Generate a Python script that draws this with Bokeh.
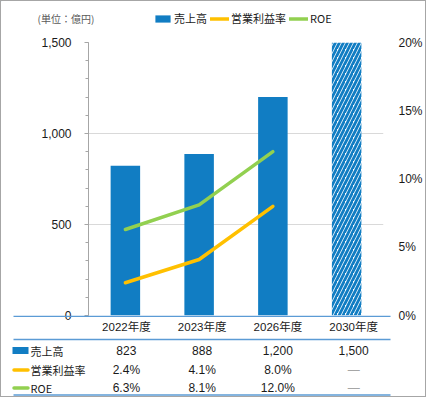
import numpy as np
from bokeh.plotting import figure
from bokeh.models import (Range1d, FactorRange, LinearAxis, FixedTicker, NumeralTickFormatter,
                          PrintfTickFormatter, Legend, LegendItem, ColumnDataSource)
from bokeh.layouts import column
from bokeh.core.properties import value
from bokeh.embed import file_html
from bokeh.resources import INLINE

# ---------------- data ----------------
categories = ["2022年度", "2023年度", "2026年度", "2030年度"]
sales = [823, 888, 1200, 1500]            # 売上高 (億円)
op_margin = [2.4, 4.1, 8.0, None]         # 営業利益率 (%)
roe = [6.3, 8.1, 12.0, None]              # ROE (%)
sales_ticks = [0, 500, 1000, 1500]
pct_ticks = [0, 5, 10, 15, 20]
series_names = ["売上高", "営業利益率", "ROE"]
unit_label = "(単位：億円)"
missing_mark = "―"

# ---------------- style ----------------
BLUE = "#117DC3"
ORANGE = "#FFC000"
GREEN = "#92D050"
TABLE_LINE = "#5B9BD5"
AXIS_GRAY = "#A6A6A6"
GRID = "#D9D9D9"
TXT = "#1A1A1A"
JP = "Noto Sans CJK JP"
LAT = "Liberation Sans"
MIX = "Liberation Sans, Noto Sans CJK JP"

W = 424
FL, FR, FT, FH, FB = 87, 34, 41, 273, 8
HH = 30          # header strip height
TH = 81          # table strip height
n = len(categories)
colw = (W - FL - FR) / n

actual = [i for i in range(n) if op_margin[i] is not None]
target = [i for i in range(n) if op_margin[i] is None]

def strip(height, **kw):
    f = figure(width=W, height=height, output_backend="svg", toolbar_location=None,
               title=None, x_axis_location=None, y_axis_location=None,
               min_border=0, frame_align=False, **kw)
    f.outline_line_color = None
    f.background_fill_color = None
    f.border_fill_color = None
    for g in f.grid:
        g.visible = False
    return f

# ---------------- header: unit + legend ----------------
h = strip(HH, x_range=Range1d(0, W), y_range=Range1d(HH, 0))
h.text(x=[36], y=[17], text=[unit_label], text_font=value(JP), text_font_size="10px",
       text_color="#595959", text_baseline="middle", text_align="left")
# legend swatches: renderers styled like the chart series, kept outside the strip's view
off = [-100, -99]
d_bar = h.vbar(x=off[:1], top=off[:1], bottom=off[1:], width=1,
               fill_color=BLUE, line_color=None)
d_om = h.line(x=off, y=off, line_color=ORANGE, line_width=3.5, line_cap="round")
d_roe = h.line(x=off, y=off, line_color=GREEN, line_width=3.5, line_cap="round")
legend = Legend(items=[LegendItem(label=series_names[0], renderers=[d_bar]),
                       LegendItem(label=series_names[1], renderers=[d_om]),
                       LegendItem(label=series_names[2], renderers=[d_roe])],
                orientation="horizontal", location=(152, 5),
                glyph_width=19, glyph_height=9, label_height=10, label_width=10,
                label_standoff=2, spacing=3, padding=0, margin=0,
                border_line_color=None, background_fill_alpha=0,
                label_text_font=JP, label_text_font_size="11px",
                label_text_color=TXT)
h.add_layout(legend, "center")

# ---------------- main chart ----------------
p = figure(width=W, height=FT + FH + FB, x_range=FactorRange(*categories),
           y_range=Range1d(0, sales_ticks[-1]), output_backend="svg",
           toolbar_location=None, title=None, x_axis_location=None,
           min_border_left=FL, min_border_right=FR, min_border_top=FT,
           min_border_bottom=FB, frame_align=False, margin=(-HH, 0, 0, 0))
p.outline_line_color = None
p.background_fill_color = "white"
p.border_fill_color = None
for g in p.xgrid:
    g.visible = False
p.ygrid.ticker = FixedTicker(ticks=sales_ticks[1:])
p.ygrid.grid_line_color = GRID
p.ygrid.grid_line_width = 1

yax = p.yaxis[0]
yax.ticker = FixedTicker(ticks=sales_ticks,
                         minor_ticks=list(range(sales_ticks[0], sales_ticks[-1] + 1, 100)))
yax.formatter = NumeralTickFormatter(format="0,0")
yax.axis_line_color = AXIS_GRAY
yax.major_tick_line_color = AXIS_GRAY
yax.minor_tick_line_color = AXIS_GRAY
yax.major_tick_out = 4
yax.major_tick_in = 0
yax.minor_tick_out = 3
yax.minor_tick_in = 0
yax.major_label_standoff = 13
yax.major_label_text_font = LAT
yax.major_label_text_font_size = "12px"
yax.major_label_text_color = TXT

p.extra_y_ranges = {"pct": Range1d(pct_ticks[0], pct_ticks[-1])}
rax = LinearAxis(y_range_name="pct", ticker=FixedTicker(ticks=pct_ticks),
                 formatter=PrintfTickFormatter(format="%d%%"))
rax.axis_line_color = None
rax.major_tick_line_color = None
rax.minor_tick_line_color = None
rax.major_label_standoff = 9
rax.major_label_text_font = LAT
rax.major_label_text_font_size = "12px"
rax.major_label_text_color = TXT
p.add_layout(rax, "right")

bar_src = ColumnDataSource(dict(cat=[categories[i] for i in actual],
                                val=[sales[i] for i in actual]))
p.vbar(x="cat", top="val", width=0.4, source=bar_src, fill_color=BLUE, line_color=None)
tgt_src = ColumnDataSource(dict(cat=[categories[i] for i in target],
                                val=[sales[i] for i in target]))
p.vbar(x="cat", top="val", width=0.4, source=tgt_src, fill_color="white",
       line_color=None, hatch_pattern="/", hatch_color=BLUE,
       hatch_scale=8, hatch_weight=2.8)

line_src = ColumnDataSource(dict(cat=[categories[i] for i in actual],
                                 om=[op_margin[i] for i in actual],
                                 roe=[roe[i] for i in actual]))
p.line(x="cat", y="om", source=line_src, y_range_name="pct",
       line_color=ORANGE, line_width=3.5, line_cap="round", line_join="round")
p.line(x="cat", y="roe", source=line_src, y_range_name="pct",
       line_color=GREEN, line_width=3.5, line_cap="round", line_join="round")

# ---------------- data table ----------------
t = strip(TH, x_range=Range1d(-FL / colw, n + FR / colw), y_range=Range1d(TH, 0),
          margin=(-FB, 0, 0, 0))

def tx(pic_x):
    # picture x -> table data x (0 = left edge of the plot frame)
    return (pic_x - (FL + 1)) / colw

xs = np.arange(n) + 0.5
line_y = [0.75, 24, 79.5]
row_y = [35, 54.5, 72.5]

t.segment(x0=[tx(13)] * 3, x1=[tx(390)] * 3, y0=line_y, y1=line_y,
          line_color=TABLE_LINE, line_width=1.5)
t.text(x=xs, y=[11.5] * n, text=categories, text_font=value(MIX),
       text_font_size="11.5px", text_align="center", text_baseline="middle",
       text_color=TXT)

t.rect(x=[tx(20)], y=[row_y[0]], width=16, height=7,
       width_units="screen", height_units="screen", fill_color=BLUE, line_color=None)
t.segment(x0=[tx(13.5)] * 2, x1=[tx(27.5)] * 2, y0=row_y[1:], y1=row_y[1:],
          line_color=[ORANGE, GREEN], line_width=3.5, line_cap="round")
t.text(x=[tx(30)] * 3, y=row_y, text=series_names, text_font=value(JP),
       text_font_size="11px", text_align="left", text_baseline="middle",
       text_color=TXT)

cells_x, cells_y, cells_t, cells_c = [], [], [], []
rows = [[f"{v:,}" if v is not None else None for v in sales],
        [f"{v:.1f}%" if v is not None else None for v in op_margin],
        [f"{v:.1f}%" if v is not None else None for v in roe]]
for r, vals in enumerate(rows):
    for i, s in enumerate(vals):
        cells_x.append(xs[i])
        cells_y.append(row_y[r])
        cells_t.append(s if s is not None else missing_mark)
        cells_c.append(TXT if s is not None else "#A6A6A6")
cell_src = ColumnDataSource(dict(x=cells_x, y=cells_y, t=cells_t, c=cells_c))
t.text(x="x", y="y", text="t", text_color="c", source=cell_src,
       text_font=value(MIX), text_font_size="12px", text_align="center",
       text_baseline="middle")

layout = column(h, p, t, styles={"border": "1px solid #A6A6A6",
                                 "background-color": "white"})

open("out.html", "w").write(file_html(layout, INLINE))
